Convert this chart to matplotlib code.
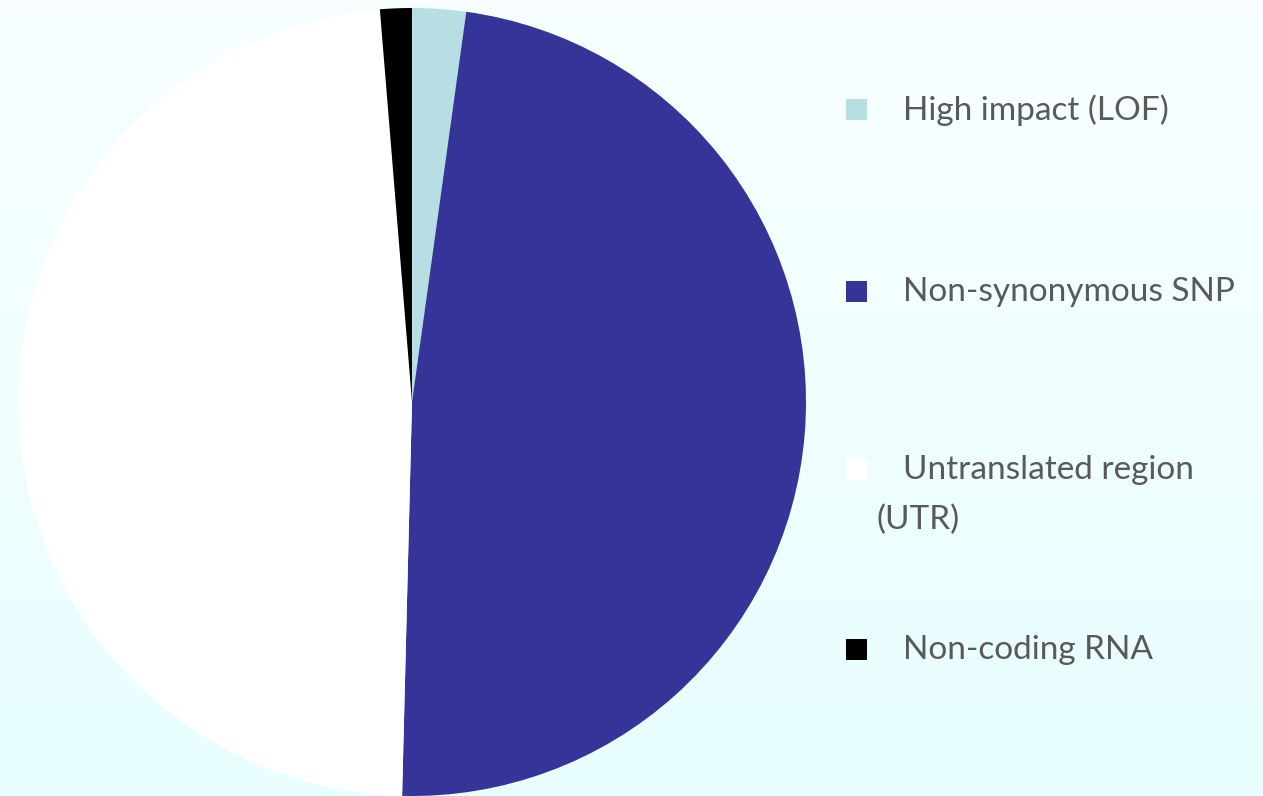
import numpy as np
import matplotlib.pyplot as plt
from matplotlib.patches import Rectangle

labels = ["High impact (LOF)", "Non-synonymous SNP", "Untranslated region\n(UTR)", "Non-coding RNA"]
values = [2.2, 48.2, 48.3, 1.3]
colors = ["#B7DFE3", "#353599", "#FFFFFF", "#000000"]


def main():
  W, H = 1263, 796
  fig = plt.figure(figsize=(W / 100, H / 100), dpi=100)

  # soft vertical gradient behind everything
  bg = fig.add_axes([0, 0, 1, 1])
  grad = np.linspace(0, 1, 256).reshape(-1, 1)
  top = np.array([0.973, 0.996, 1.0])
  bot = np.array([0.910, 1.0, 1.0])
  img = top + grad[..., None] * (bot - top)
  bg.imshow(img, aspect="auto", extent=[0, 1, 0, 1])
  bg.axis("off")

  ax = fig.add_axes([18 / W, 0, 788 / W, 788 / H])
  ax.pie(values, colors=colors, startangle=90, counterclock=False,
         radius=1, wedgeprops={"linewidth": 0})
  ax.set_xlim(-1, 1)
  ax.set_ylim(-1, 1)
  ax.set_aspect("equal")
  ax.axis("off")

  rows = [110, 292, 470, 650]
  for lab, col, y in zip(labels, colors, rows):
    fig.patches.append(Rectangle((846 / W, 1 - (y + 10) / H), 21 / W, 21 / H,
                                 transform=fig.transFigure, facecolor=col,
                                 edgecolor="none"))
    lines = lab.split("\n")
    fig.text(903 / W, 1 - y / H, lines[0], fontsize=24, color="#595959",
             family="Lato", va="center")
    for k, extra in enumerate(lines[1:]):
      fig.text(877 / W, 1 - (y + 50 * (k + 1)) / H, extra, fontsize=24,
               color="#595959", family="Lato", va="center")

  fig.savefig("out.png", dpi=100)


if __name__ == "__main__":
  main()
